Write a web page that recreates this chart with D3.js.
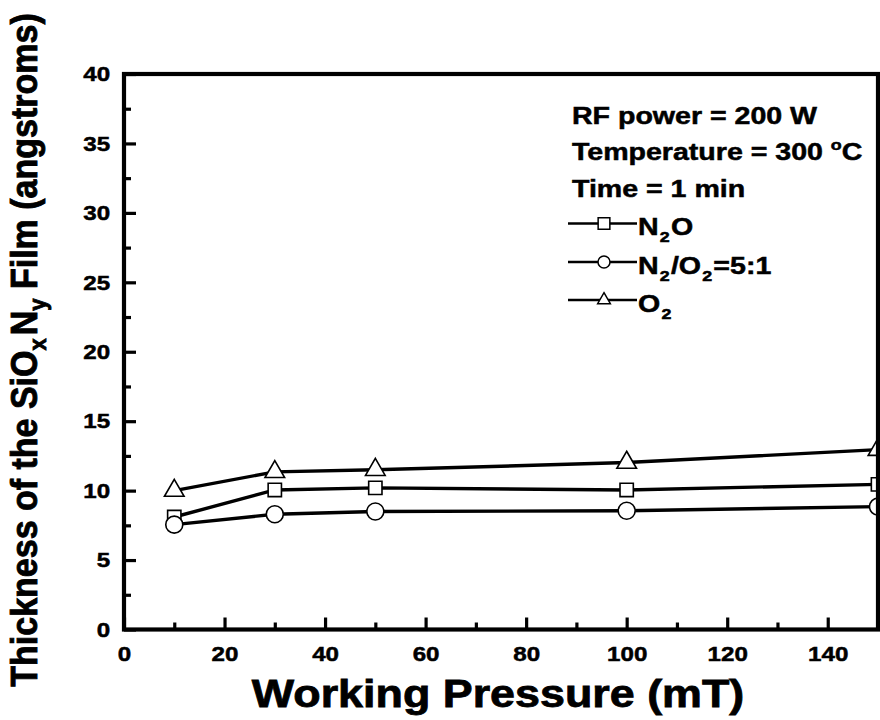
<!DOCTYPE html>
<html>
<head>
<meta charset="utf-8">
<script src="https://cdn.jsdelivr.net/npm/d3@7"></script>
<style>
  html, body { margin: 0; padding: 0; background: #fff; }
  svg { display: block; }
  text { font-family: "Liberation Sans", Arial, Helvetica, sans-serif; font-weight: bold; fill: #000; stroke: #000; stroke-width: 0.5px; }
</style>
</head>
<body>
<svg id="chart" width="880" height="720"></svg>
<script>
// Working pressure (mT) at which each film was grown
const pressures = [10, 30, 50, 100, 150];
// Film thickness (angstroms) for each ambient gas
const thickN2O = [8.1, 10.05, 10.2, 10.05, 10.45];
const thickN2O2 = [7.55, 8.3, 8.5, 8.55, 8.85];
const thickO2 = [10.0, 11.35, 11.5, 12.02, 12.95];

const xTicks = [0, 20, 40, 60, 80, 100, 120, 140];
const xMinorTicks = [10, 30, 50, 70, 90, 110, 130];
const yTicks = [0, 5, 10, 15, 20, 25, 30, 35, 40];
const yMinorTicks = [2.5, 7.5, 12.5, 17.5, 22.5, 27.5, 32.5, 37.5];

const seriesNames = ["N2O", "N2/O2=5:1", "O2"];
const conditionLines = ["RF power = 200 W", "Temperature = 300 ", "Time = 1 min"];

const series = [
  { name: seriesNames[0], values: thickN2O, symbol: d3.symbolSquare, size: 177, legendSize: 137 },
  { name: seriesNames[1], values: thickN2O2, symbol: d3.symbolCircle, size: 227, legendSize: 113 },
  { name: seriesNames[2], values: thickO2, symbol: d3.symbolTriangle, size: 167, legendSize: 70 }
];

const svg = d3.select("#chart");
const plotLeft = 124, plotRight = 878, plotTop = 74, plotBottom = 629.5;
const sx = 1.15;       // horizontal glyph widening for axis text
const sxNote = 1.19;   // horizontal glyph widening for the legend block

const x = d3.scaleLinear().domain([0, 150]).range([plotLeft, plotRight]);
const y = d3.scaleLinear().domain([0, 40]).range([plotBottom, plotTop]);

// ---- axes (inward ticks) ----
svg.append("g").attr("transform", `translate(0,${plotBottom})`)
  .call(d3.axisBottom(x).tickValues(xTicks).tickSize(-12).tickPadding(17).tickFormat(d3.format("d")));
svg.append("g").attr("transform", `translate(0,${plotBottom})`)
  .call(d3.axisBottom(x).tickValues(xMinorTicks).tickSize(-7).tickFormat(""));
svg.append("g").attr("transform", `translate(${plotLeft},0)`)
  .call(d3.axisLeft(y).tickValues(yTicks).tickSize(-12).tickPadding(12).tickFormat(d3.format("d")));
svg.append("g").attr("transform", `translate(${plotLeft},0)`)
  .call(d3.axisLeft(y).tickValues(yMinorTicks).tickSize(-7).tickFormat(""));

svg.selectAll(".domain").remove();
svg.selectAll(".tick line").attr("stroke", "#000").attr("stroke-width", 3.2);
svg.selectAll(".tick text")
  .attr("font-size", 21)
  .attr("font-weight", "bold")
  .attr("font-family", "Liberation Sans, Arial, sans-serif")
  .attr("fill", "#000")
  .attr("transform", `scale(${sx},1)`);

// ---- data lines and markers ----
const line = d3.line().x((d, i) => x(pressures[i])).y(d => y(d));
series.forEach(s => {
  svg.append("path")
    .datum(s.values)
    .attr("d", line)
    .attr("fill", "none")
    .attr("stroke", "#000")
    .attr("stroke-width", 3.4);
});
series.forEach(s => {
  svg.append("g").selectAll("path")
    .data(s.values)
    .join("path")
    .attr("d", d3.symbol(s.symbol, s.size))
    .attr("transform", (d, i) => `translate(${x(pressures[i])},${y(d)})`)
    .attr("fill", "#fff")
    .attr("stroke", "#000")
    .attr("stroke-width", 1.6);
});

// ---- frame ----
svg.append("rect")
  .attr("x", plotLeft).attr("y", plotTop)
  .attr("width", plotRight - plotLeft).attr("height", plotBottom - plotTop)
  .attr("fill", "none").attr("stroke", "#000").attr("stroke-width", 4.2);

// ---- helper for horizontally widened text ----
function wideText(px, py, size, k) {
  return svg.append("text")
    .attr("transform", `translate(${px},${py}) scale(${k || sx},1)`)
    .attr("font-size", size);
}

// ---- axis titles ----
wideText(498, 707, 39).attr("text-anchor", "middle").style("stroke-width", "0.8px").text("Working Pressure (mT)");

const yTitle = svg.append("text")
  .attr("transform", `translate(37,350) rotate(-90) scale(1,1.1)`)
  .attr("text-anchor", "middle")
  .style("stroke-width", "0.8px")
  .attr("font-size", 34);
yTitle.append("tspan").text("Thickness of the SiO");
yTitle.append("tspan").attr("font-size", 22).attr("dy", 8).text("x");
yTitle.append("tspan").attr("dy", -8).attr("dx", 3).text("N");
yTitle.append("tspan").attr("font-size", 22).attr("dy", 8).text("y");
yTitle.append("tspan").attr("dy", -8).text(" Film (angstroms)");

// ---- deposition conditions ----
const condX = 572;
wideText(condX, 124, 24, sxNote).text(conditionLines[0]);
const tempText = wideText(condX, 160, 24, sxNote);
tempText.append("tspan").text(conditionLines[1]);
tempText.append("tspan").attr("font-size", 15).attr("dy", -10).text("o");
tempText.append("tspan").attr("dy", 10).text("C");
wideText(condX, 197, 24, sxNote).text(conditionLines[2]);

// ---- legend ----
const legendRows = [223.5, 262, 300];
const lx0 = 568, lx1 = 637, lsym = 604;
const labelParts = [
  [["N", 0], ["2", 1], ["O", 0]],
  [["N", 0], ["2", 1], ["/O", 0], ["2", 1], ["=5:1", 0]],
  [["O", 0], ["2", 1]]
];
series.forEach((s, k) => {
  const ly = legendRows[k];
  svg.append("line")
    .attr("x1", lx0).attr("x2", lx1).attr("y1", ly).attr("y2", ly)
    .attr("stroke", "#000").attr("stroke-width", 2.6);
  svg.append("path")
    .attr("d", d3.symbol(s.symbol, s.legendSize))
    .attr("transform", `translate(${lsym},${ly})`)
    .attr("fill", "#fff").attr("stroke", "#000").attr("stroke-width", 1.5);
  const t = wideText(lx1 + 1, ly + 11.5, 24, sxNote);
  let sub = false;
  labelParts[k].forEach(([str, isSub]) => {
    const ts = t.append("tspan").text(str);
    if (isSub && !sub) { ts.attr("font-size", 15).attr("dy", 7).attr("dx", 1); sub = true; }
    else if (!isSub && sub) { ts.attr("dy", -7).attr("dx", 1); sub = false; }
  });
});
</script>
</body>
</html>
